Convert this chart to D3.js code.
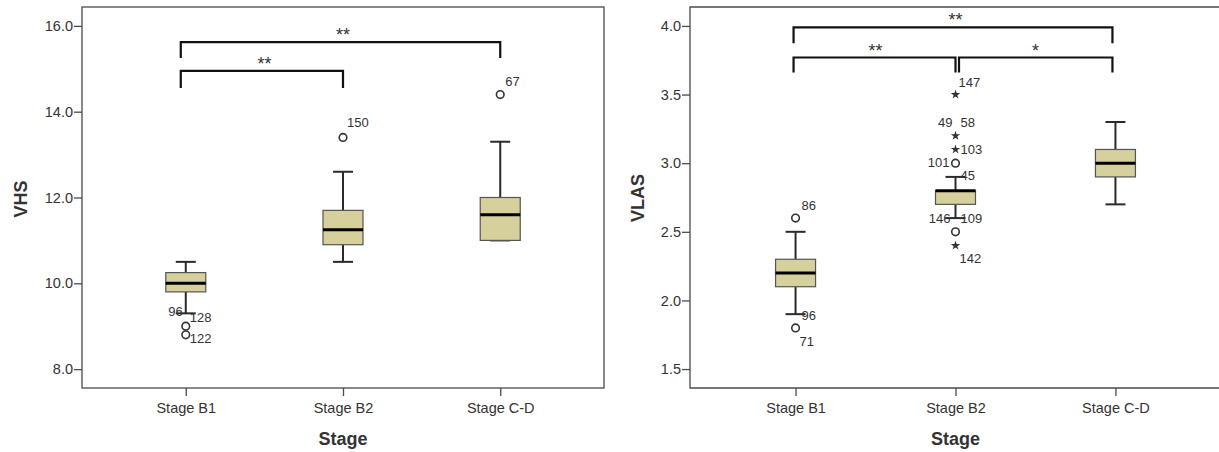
<!DOCTYPE html>
<html><head><meta charset="utf-8">
<script src="https://cdn.jsdelivr.net/npm/d3@7/dist/d3.min.js"></script>
<style>
body{margin:0;background:#fff;}
text{font-family:"Liberation Sans",Arial,sans-serif;fill:#333;}
</style></head>
<body><svg id="chart" width="1219" height="452"></svg>
<script>
// ---------- data ----------
const categories = ["Stage B1", "Stage B2", "Stage C-D"];
const xTitle = "Stage";

// VHS panel
const vhsTicks = [8, 10, 12, 14, 16];
const vhsWhiskerLow  = [9.3, 10.5, 11.0];
const vhsQ1          = [9.8, 10.9, 11.0];
const vhsMedian      = [10.0, 11.25, 11.6];
const vhsQ3          = [10.25, 11.7, 12.0];
const vhsWhiskerHigh = [10.5, 12.6, 13.3];
const vhsOutlierCat   = [0, 0, 1, 2];
const vhsOutlierValue = [9.0, 8.8, 13.4, 14.4];
const vhsOutlierShape = ["circle", "circle", "circle", "circle"];
const vhsLabelText  = ["96", "128", "122", "150", "67"];
const vhsLabelCat   = [0, 0, 0, 1, 2];
const vhsLabelValue = [9.3, 9.0, 8.8, 13.4, 14.4];
const vhsBracketFrom  = [0, 0];
const vhsBracketTo    = [2, 1];
const vhsBracketTop   = [15.62, 14.95];
const vhsBracketFoot  = [15.25, 14.55];
const vhsBracketSig   = ["**", "**"];

// VLAS panel
const vlasTicks = [1.5, 2.0, 2.5, 3.0, 3.5, 4.0];
const vlasWhiskerLow  = [1.9, 2.6, 2.7];
const vlasQ1          = [2.1, 2.7, 2.9];
const vlasMedian      = [2.2, 2.8, 3.0];
const vlasQ3          = [2.3, 2.8, 3.1];
const vlasWhiskerHigh = [2.5, 2.9, 3.3];
const vlasOutlierCat   = [0, 0, 1, 1, 1, 1, 1, 1];
const vlasOutlierValue = [2.6, 1.8, 3.5, 3.2, 3.1, 3.0, 2.5, 2.4];
const vlasOutlierShape = ["circle", "circle", "star", "star", "star", "circle", "circle", "star"];
const vlasLabelText  = ["86", "96", "71", "147", "49", "58", "103", "101", "45", "146", "109", "142"];
const vlasLabelCat   = [0, 0, 0, 1, 1, 1, 1, 1, 1, 1, 1, 1];
const vlasLabelValue = [2.6, 1.9, 1.8, 3.5, 3.2, 3.2, 3.1, 3.0, 2.9, 2.6, 2.6, 2.4];
const vlasBracketFrom = [0, 0, 1];
const vlasBracketTo   = [2, 1, 2];
const vlasBracketTop  = [3.99, 3.77, 3.77];
const vlasBracketFoot = [3.874, 3.66, 3.66];
const vlasBracketSig  = ["**", "**", "*"];

// ---------- layout ----------
const panels = [
  { title: "VHS", left: 82, right: 604, closed: true, domain: [7.56, 16.44], ticks: vhsTicks, fmt: d3.format(".1f"),
    wl: vhsWhiskerLow, q1: vhsQ1, med: vhsMedian, q3: vhsQ3, wh: vhsWhiskerHigh,
    oc: vhsOutlierCat, ov: vhsOutlierValue, os: vhsOutlierShape,
    lt: vhsLabelText, lc: vhsLabelCat, lv: vhsLabelValue,
    lo: [[-3, 3, "end"], [4, -4, "start"], [4, 8, "start"], [4, -10, "start"], [5, -8.5, "start"]],
    bf: vhsBracketFrom, bt: vhsBracketTo, btop: vhsBracketTop, bfoot: vhsBracketFoot, bs: vhsBracketSig,
    titleX: 20, titleY: 199 },
  { title: "VLAS", left: 690, right: 1221, closed: false, domain: [1.362, 4.138], ticks: vlasTicks, fmt: d3.format(".1f"),
    wl: vlasWhiskerLow, q1: vlasQ1, med: vlasMedian, q3: vlasQ3, wh: vlasWhiskerHigh,
    oc: vlasOutlierCat, ov: vlasOutlierValue, os: vlasOutlierShape,
    lt: vlasLabelText, lc: vlasLabelCat, lv: vlasLabelValue,
    lo: [[6, -8, "start"], [6, 5.5, "start"], [4, 18, "start"], [3, -8, "start"], [-3, -8.5, "end"], [5, -8.5, "start"],
         [5, 5, "start"], [-6, 3.5, "end"], [5, 3.5, "start"], [-5, 4.5, "end"], [5, 4.5, "start"], [4, 17, "start"]],
    bf: vlasBracketFrom, bt: vlasBracketTo, btop: vlasBracketTop, bfoot: vlasBracketFoot, bs: vlasBracketSig,
    titleX: 637, titleY: 198 }
];

const plotTop = 7, plotBottom = 388;
const svg = d3.select("#chart");
const frameColor = "#4a4a4a";
const boxFill = "#d5d09c";

panels.forEach(p => {
  const g = svg.append("g");
  const x = d3.scalePoint().domain(categories).range([p.left, p.right]).padding(0.66);
  const y = d3.scaleLinear().domain(p.domain).range([plotBottom, plotTop]);

  if (p.closed) {
    g.append("rect").attr("x", p.left).attr("y", plotTop).attr("width", p.right - p.left).attr("height", plotBottom - plotTop)
      .attr("fill", "none").attr("stroke", frameColor).attr("stroke-width", 1.3);
  } else {
    g.append("path").attr("d", `M${p.right},${plotTop}H${p.left}V${plotBottom}H${p.right}`)
      .attr("fill", "none").attr("stroke", frameColor).attr("stroke-width", 1.3);
  }

  const ya = g.append("g").attr("transform", `translate(${p.left},0)`)
    .call(d3.axisLeft(y).tickValues(p.ticks).tickFormat(p.fmt).tickSize(8).tickPadding(1));
  ya.select(".domain").remove();
  ya.selectAll("line").attr("stroke", frameColor).attr("stroke-width", 1.3);
  ya.selectAll("text").attr("font-size", "14.5px").attr("fill", "#3a3a3a").attr("font-family", "Liberation Sans, Arial, sans-serif");

  const xa = g.append("g").attr("transform", `translate(0,${plotBottom})`)
    .call(d3.axisBottom(x).tickSize(8).tickPadding(7));
  xa.select(".domain").remove();
  xa.selectAll("line").attr("stroke", frameColor).attr("stroke-width", 1.3);
  xa.selectAll("text").attr("font-size", "14.5px").attr("fill", "#3a3a3a").attr("font-family", "Liberation Sans, Arial, sans-serif");

  g.append("text").attr("x", x(categories[1]))
    .attr("y", 445).attr("text-anchor", "middle").attr("font-size", "18px").attr("font-weight", "bold")
    .attr("fill", "#111").text(xTitle);
  g.append("text").attr("transform", `translate(${p.titleX + 6.5},${p.titleY}) rotate(-90)`)
    .attr("text-anchor", "middle").attr("font-size", "18px").attr("font-weight", "bold")
    .attr("fill", "#111").text(p.title);

  const bw = 40, cw = 20;
  categories.forEach((c, i) => {
    const cx = x(c);
    g.append("line").attr("x1", cx).attr("x2", cx).attr("y1", y(p.wh[i])).attr("y2", y(p.q3[i]))
      .attr("stroke", "#2a2a2a").attr("stroke-width", 2);
    g.append("line").attr("x1", cx).attr("x2", cx).attr("y1", y(p.q1[i])).attr("y2", y(p.wl[i]))
      .attr("stroke", "#2a2a2a").attr("stroke-width", 2);
    [p.wh[i], p.wl[i]].forEach(v => {
      g.append("line").attr("x1", cx - cw / 2).attr("x2", cx + cw / 2).attr("y1", y(v)).attr("y2", y(v))
        .attr("stroke", "#2a2a2a").attr("stroke-width", 2);
    });
    g.append("rect").attr("x", cx - bw / 2).attr("y", y(p.q3[i])).attr("width", bw)
      .attr("height", y(p.q1[i]) - y(p.q3[i])).attr("fill", boxFill)
      .attr("stroke", "#555").attr("stroke-width", 1.2);
    g.append("line").attr("x1", cx - bw / 2).attr("x2", cx + bw / 2).attr("y1", y(p.med[i])).attr("y2", y(p.med[i]))
      .attr("stroke", "#000").attr("stroke-width", 3);
  });

  p.ov.forEach((v, k) => {
    const cx = x(categories[p.oc[k]]);
    if (p.os[k] === "circle") {
      g.append("circle").attr("cx", cx).attr("cy", y(v)).attr("r", 3.8)
        .attr("fill", "none").attr("stroke", "#333").attr("stroke-width", 1.6);
    } else {
      g.append("path").attr("d", d3.symbol(d3.symbolStar, 28)())
        .attr("transform", `translate(${cx},${y(v)})`).attr("fill", "#333");
    }
  });

  p.lt.forEach((t, k) => {
    const cx = x(categories[p.lc[k]]);
    const o = p.lo[k];
    g.append("text").attr("x", cx + o[0]).attr("y", y(p.lv[k]) + o[1]).attr("text-anchor", o[2])
      .attr("font-size", "13px").attr("fill", "#333").text(t);
  });

  p.bf.forEach((f, k) => {
    const x1 = x(categories[f]) + (f === 1 ? 3.5 : (p.closed ? -5 : -2));
    const x2 = x(categories[p.bt[k]]) - (p.bt[k] === 2 && !p.closed ? 3 : 0);
    const yt = y(p.btop[k]), yf = y(p.bfoot[k]);
    g.append("path").attr("d", `M${x1},${yf}V${yt}H${x2}V${yf}`)
      .attr("fill", "none").attr("stroke", "#111").attr("stroke-width", 2.2);
    g.append("text").attr("x", (x(categories[f]) + x(categories[p.bt[k]])) / 2).attr("y", yt - 1)
      .attr("text-anchor", "middle").attr("font-size", "18px").attr("fill", "#3a3550").text(p.bs[k]);
  });
});
</script></body></html>
